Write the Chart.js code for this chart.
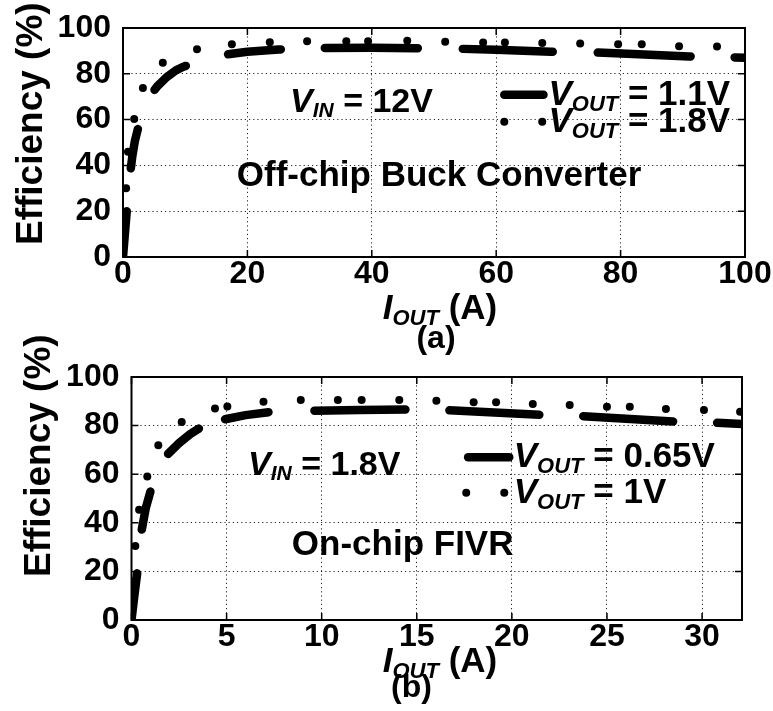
<!DOCTYPE html>
<html>
<head>
<meta charset="utf-8">
<script src="https://cdn.jsdelivr.net/npm/chart.js@4.4.1/dist/chart.umd.min.js"></script>
<style>
  html, body { margin: 0; padding: 0; background: #fff; }
  #wrap { position: relative; width: 773px; height: 711px; overflow: hidden; }
  canvas { position: absolute; left: 0; }
</style>
</head>
<body>
<div id="wrap">
  <canvas id="panelA" width="773" height="360" style="top:0"></canvas>
  <canvas id="panelB" width="773" height="381" style="top:330px"></canvas>
</div>
<script>
// ---- shared tick labels ----
const effTicks = [0, 20, 40, 60, 80, 100];
const buckCurrentTicks = [0, 20, 40, 60, 80, 100];
const fivrCurrentTicks = [0, 5, 10, 15, 20, 25, 30];

// ---- (a) off-chip buck converter, VIN = 12 V ----
const buckI_1v1 = [0, 0.3, 0.65, 0.9, 1.1, 1.5, 1.9, 2.4, 3.2, 4.0, 5.5, 7.0, 8.5, 9.6, 12.3, 14.8, 20, 25, 30.5, 40, 47, 53, 60, 68.8, 74.6, 82, 91, 96.6, 100];
const buckEff_1v1 = [0, 10, 21.5, 29, 35.4, 44, 50.5, 56, 62.4, 69.2, 74.5, 78.5, 81.5, 83, 85.4, 87.8, 89.6, 90.6, 91.2, 91.4, 91.2, 91.0, 90.5, 89.6, 89.5, 88.6, 87.6, 87.3, 87.0];
const buckI_1v8 = [0.5, 0.8, 1.8, 3.2, 6.4, 11.9, 17.5, 23.6, 29.6, 35.9, 39.4, 45.7, 51.8, 57.9, 61.4, 67.4, 73.5, 79.6, 83.4, 89.4, 95.5];
const buckEff_1v8 = [30, 46, 60.3, 73.8, 84.8, 90.7, 92.9, 93.8, 94.2, 94.2, 94.2, 94.4, 94.0, 93.7, 93.7, 93.4, 93.2, 92.9, 92.9, 92.0, 91.9];

// ---- (b) on-chip FIVR, VIN = 1.8 V ----
const fivrI_0v65 = [0, 0.15, 0.33, 0.42, 0.5, 0.75, 1.06, 1.41, 1.76, 2.5, 3.1, 3.73, 4.2, 4.66, 6.0, 7.38, 9.3, 12, 14.57, 16.4, 21.6, 23.4, 28.6, 30.4, 32.1];
const fivrEff_0v65 = [0, 10, 21.1, 28, 35.5, 46, 54.7, 60.9, 67.1, 72.8, 76.6, 79.7, 81.2, 82.2, 84.3, 85.7, 86.1, 86.4, 86.6, 86.4, 84.4, 84.0, 81.6, 81.3, 80.7];
const fivrI_1v0 = [0.05, 0.2, 0.4, 0.83, 1.41, 2.64, 4.39, 5.04, 6.94, 8.9, 10.85, 12.1, 14.08, 16.03, 17.99, 19.17, 21.1, 23.04, 25.0, 26.2, 28.1, 30.1, 32.0];
const fivrEff_1v0 = [15.8, 30.5, 45.4, 59.1, 71.9, 81.5, 87.0, 87.9, 89.8, 90.5, 90.5, 90.5, 90.5, 90.2, 89.6, 89.6, 88.9, 88.5, 87.8, 87.8, 86.8, 86.4, 85.7];

// dash rhythm of the thick dashed curves (short dashes on the steep rise, long ones on the plateau)
const buckDashPattern = [46, 43, 40, 43, 40, 44, 53, 44, 93, 45, 90, 45, 93, 44, 93, 44];
const fivrDashPattern = [47, 44, 39, 42, 40, 28, 44, 46, 91, 44, 90, 44, 90, 44, 90, 44];

const FAMILY = '"Liberation Sans", Arial, Helvetica, sans-serif';
const fontOf = (size, italic) => `${italic ? 'italic ' : ''}bold ${size}px ${FAMILY}`;
const toXY = (xs, ys) => xs.map((v, i) => ({ x: v, y: ys[i] }));
const DOT_R = 4;

function drawRich(ctx, x, y, parts, align) {
  let total = 0;
  for (const p of parts) { ctx.font = fontOf(p.size, p.italic); total += ctx.measureText(p.text).width; }
  let cx = align === 'center' ? x - total / 2 : x;
  ctx.textAlign = 'left';
  ctx.textBaseline = 'alphabetic';
  for (const p of parts) {
    ctx.font = fontOf(p.size, p.italic);
    ctx.fillText(p.text, cx, y + (p.dy || 0));
    cx += ctx.measureText(p.text).width;
  }
}

const subLabel = (main, sub, rest, big, small, drop) => [
  { text: main, size: big, italic: true },
  { text: sub, size: small, italic: true, dy: drop },
  { text: rest, size: big }
];

// frame, inward ticks, annotations, legend and axis titles
const panelDecor = {
  id: 'panelDecor',
  afterDraw(chart, args, o) {
    const { ctx, chartArea: a, scales: { x, y } } = chart;
    ctx.save();
    ctx.fillStyle = '#000';
    ctx.strokeStyle = '#000';

    ctx.lineWidth = 1.5;
    ctx.beginPath();
    for (const t of x.ticks) {
      const px = x.getPixelForValue(t.value);
      ctx.moveTo(px, a.bottom); ctx.lineTo(px, a.bottom - 7);
      ctx.moveTo(px, a.top); ctx.lineTo(px, a.top + 7);
    }
    for (const t of y.ticks) {
      const py = y.getPixelForValue(t.value);
      ctx.moveTo(a.left, py); ctx.lineTo(a.left + 7, py);
      ctx.moveTo(a.right, py); ctx.lineTo(a.right - 7, py);
    }
    ctx.stroke();

    ctx.lineWidth = 2;
    ctx.strokeRect(a.left, a.top, a.right - a.left, a.bottom - a.top);

    // in-plot notes
    for (const n of o.notes) {
      drawRich(ctx, x.getPixelForValue(n.x), y.getPixelForValue(n.y), n.parts, 'left');
    }

    // legend
    const L = o.legend;
    ctx.lineWidth = 8.5;
    ctx.lineCap = 'round';
    ctx.beginPath();
    ctx.moveTo(x.getPixelForValue(L.lineX[0]), y.getPixelForValue(L.lineY));
    ctx.lineTo(x.getPixelForValue(L.lineX[1]), y.getPixelForValue(L.lineY));
    ctx.stroke();
    for (const dx of L.dotX) {
      ctx.beginPath();
      ctx.arc(x.getPixelForValue(dx), y.getPixelForValue(L.dotY), DOT_R, 0, Math.PI * 2);
      ctx.fill();
    }
    L.rows.forEach(r => drawRich(ctx, x.getPixelForValue(L.textX), y.getPixelForValue(r.y), r.parts, 'left'));

    // x title and panel tag
    drawRich(ctx, o.xTitle.cx, o.xTitle.base, subLabel('I', 'OUT', ' (A)', 35, 22, 6), 'center');
    drawRich(ctx, o.tag.cx, o.tag.base, [{ text: o.tag.text, size: 32 }], 'center');

    // y title
    ctx.translate(o.yTitle.base, o.yTitle.cy);
    ctx.rotate(-Math.PI / 2);
    ctx.font = fontOf(37, false);
    ctx.textAlign = 'center';
    ctx.textBaseline = 'alphabetic';
    ctx.fillText('Efficiency (%)', 0, 0);
    ctx.restore();
  }
};

function makeAxis(min, max, tickValues, fitKey, fitSize, pad) {
  return {
    type: 'linear',
    min: min,
    max: max,
    afterBuildTicks: s => { s.ticks = tickValues.map(v => ({ value: v })); },
    afterFit: s => { s[fitKey] = fitSize; },
    grid: { color: 'rgba(0,0,0,0.85)', lineWidth: 1, drawTicks: false },
    border: { display: false, dash: [1.2, 3] },
    ticks: {
      color: '#000',
      padding: pad,
      font: { family: FAMILY, size: 32, weight: 'bold', lineHeight: 1 }
    }
  };
}

function buildPanel(id, cfg) {
  return new Chart(document.getElementById(id), {
    type: 'scatter',
    data: {
      datasets: [
        {
          data: toXY(cfg.lineX, cfg.lineY),
          showLine: true,
          borderColor: '#000',
          borderWidth: 8.5,
          borderCapStyle: 'round',
          borderJoinStyle: 'round',
          borderDash: cfg.dash,
          pointRadius: 0,
          tension: 0,
          clip: 0
        },
        {
          data: toXY(cfg.dotX, cfg.dotY),
          showLine: false,
          pointRadius: DOT_R,
          pointBorderWidth: 0,
          pointBackgroundColor: '#000',
          clip: 0
        }
      ]
    },
    options: {
      responsive: false,
      animation: false,
      devicePixelRatio: 1,
      layout: { padding: cfg.padding },
      scales: {
        x: makeAxis(0, cfg.xMax, cfg.xTicks, 'height', cfg.xAxisHeight, cfg.xPad),
        y: makeAxis(0, 100, effTicks, 'width', cfg.yAxisWidth, 12)
      },
      plugins: {
        legend: { display: false },
        tooltip: { enabled: false },
        panelDecor: cfg.decor
      }
    },
    plugins: [panelDecor]
  });
}

buildPanel('panelA', {
  lineX: buckI_1v1, lineY: buckEff_1v1,
  dotX: buckI_1v8, dotY: buckEff_1v8,
  dash: buckDashPattern,
  xMax: 100, xTicks: buckCurrentTicks,
  padding: { top: 20, right: 28, left: 0, bottom: 0 },
  yAxisWidth: 123, xAxisHeight: 103, xPad: 1,
  decor: {
    notes: [
      { x: 26.85, y: 63.4, parts: subLabel('V', 'IN', ' = 12V', 34, 21, 5) },
      { x: 18.3, y: 31.1, parts: [{ text: 'Off-chip Buck Converter', size: 35 }] }
    ],
    legend: {
      lineX: [61.3, 67.6], lineY: 70.9,
      dotX: [61.3, 67.4], dotY: 59.1,
      textX: 68.4,
      rows: [
        { y: 66.2, parts: subLabel('V', 'OUT', ' = 1.1V', 35, 22, 6) },
        { y: 54.4, parts: subLabel('V', 'OUT', ' = 1.8V', 35, 22, 6) }
      ]
    },
    xTitle: { cx: 440, base: 318.5 },
    tag: { cx: 436, base: 348, text: '(a)' },
    yTitle: { base: 41.7, cy: 123.7 }
  }
});

buildPanel('panelB', {
  lineX: fivrI_0v65, lineY: fivrEff_0v65,
  dotX: fivrI_1v0, dotY: fivrEff_1v0,
  dash: fivrDashPattern,
  xMax: 32.1, xTicks: fivrCurrentTicks,
  padding: { top: 47, right: 31, left: 0, bottom: 0 },
  yAxisWidth: 131.5, xAxisHeight: 91, xPad: 1.5,
  decor: {
    notes: [
      { x: 6.13, y: 59.7, parts: subLabel('V', 'IN', ' = 1.8V', 34, 21, 5) },
      { x: 8.43, y: 26.75, parts: [{ text: 'On-chip FIVR', size: 35 }] }
    ],
    legend: {
      lineX: [17.7, 19.86], lineY: 67.0,
      dotX: [17.6, 19.6], dotY: 52.4,
      textX: 20.1,
      rows: [
        { y: 63.0, parts: subLabel('V', 'OUT', ' = 0.65V', 35, 22, 6) },
        { y: 48.1, parts: subLabel('V', 'OUT', ' = 1V', 35, 22, 6) }
      ]
    },
    xTitle: { cx: 440, base: 341.7 },
    tag: { cx: 411.5, base: 366.7, text: '(b)' },
    yTitle: { base: 50, cy: 125.7 }
  }
});
</script>
</body>
</html>
